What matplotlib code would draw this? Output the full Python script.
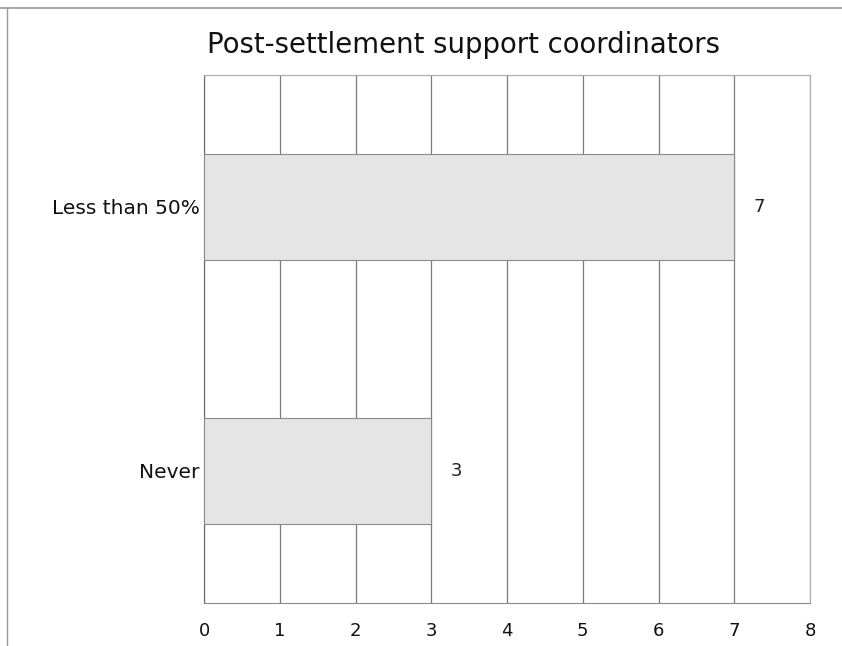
import matplotlib
matplotlib.use("Agg")
import matplotlib.pyplot as plt
from matplotlib.lines import Line2D

plt.rcParams['font.family'] = ['DejaVu Sans']

# survey counts
categories = ["Never", "Less than 50%"]
counts = [3, 7]
x_ticks = [0, 1, 2, 3, 4, 5, 6, 7, 8]
title = "Post-settlement support coordinators"

fig = plt.figure(figsize=(8.42, 6.46), dpi=100)
ax = fig.add_axes([0.2423, 0.0666, 0.7197, 0.8173])

ypos = list(range(len(categories)))
ax.barh(ypos, counts, height=0.4, color="#e5e5e5", edgecolor="#8a8a8a",
        linewidth=0.8, zorder=3)

for y, v in zip(ypos, counts):
    ax.text(v + 0.33, y, str(v), va="center", ha="center", fontsize=13, color="#222222")

ax.set_xlim(0, 8)
ax.set_ylim(-0.5, 1.5)
ax.set_xticks(x_ticks)
ax.set_xticklabels([str(t) for t in x_ticks], fontsize=13, color="#111111")
ax.set_yticks(ypos)
ax.set_yticklabels(categories, fontsize=14.5, color="#111111")
ax.tick_params(axis="x", length=0, pad=14)
ax.tick_params(axis="y", length=0, pad=3)

ax.grid(axis="x", color="#7a7a7a", linewidth=0.9, zorder=1)
ax.set_axisbelow(True)

for side in ["top", "right"]:
    ax.spines[side].set_color("#b0b0b0")
    ax.spines[side].set_linewidth(0.9)
ax.spines["left"].set_color("#666666")
ax.spines["bottom"].set_color("#8a8a8a")

fig.text(0.55, 0.93, title, ha="center", va="center", fontsize=19.8, color="#111111")

# outer chart frame
fig.add_artist(Line2D([0.0, 1.0], [0.9876, 0.9876], color="#9a9a9a", linewidth=1.2))
fig.add_artist(Line2D([0.0083, 0.0083], [0.0, 0.9876], color="#9a9a9a", linewidth=1.0))

fig.savefig("out.png", dpi=100)
